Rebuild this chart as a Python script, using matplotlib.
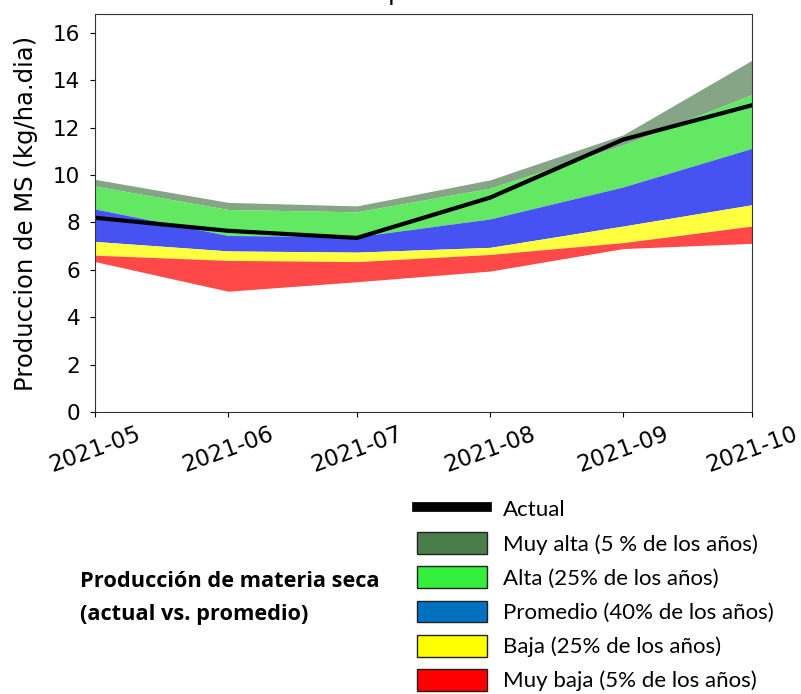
import matplotlib
matplotlib.use("Agg")
import matplotlib.pyplot as plt
import matplotlib.dates as mdates
from matplotlib.patches import Patch
from matplotlib.lines import Line2D
import pandas as pd

months = ["2021-05-01", "2021-06-01", "2021-07-01", "2021-08-01", "2021-09-01", "2021-10-01"]
muy_alta_top = [9.82, 8.85, 8.7, 9.8, 11.7, 14.85]
alta_top = [9.54, 8.55, 8.45, 9.45, 11.27, 13.4]
promedio_top = [8.57, 7.45, 7.4, 8.15, 9.5, 11.13]
baja_top = [7.2, 6.8, 6.75, 6.95, 7.85, 8.75]
muy_baja_top = [6.62, 6.4, 6.35, 6.65, 7.15, 7.85]
muy_baja_bottom = [6.35, 5.1, 5.5, 5.95, 6.9, 7.12]
actual = [8.2, 7.65, 7.35, 9.05, 11.5, 12.95]

legend_labels = ["Actual", "Muy alta (5 % de los años)", "Alta (25% de los años)",
                 "Promedio (40% de los años)", "Baja (25% de los años)",
                 "Muy baja (5% de los años)"]
title = "Campo natural"
ylabel = "Produccion de MS (kg/ha.dia)"
side_text = "Producción de materia seca\n(actual vs. promedio)"

x = pd.to_datetime(months)

fig = plt.figure(figsize=(8.01, 6.94), dpi=100)
ax = fig.add_axes([0.1186, 0.4063, 0.8202, 0.5735])

c_gray = "#86a486"
c_green = "#62e862"
c_blue = "#4652f2"
c_yellow = "#ffff40"
c_red = "#ff4848"

ax.fill_between(x, alta_top, muy_alta_top, color=c_gray, lw=0)
ax.fill_between(x, promedio_top, alta_top, color=c_green, lw=0)
ax.fill_between(x, baja_top, promedio_top, color=c_blue, lw=0)
ax.fill_between(x, muy_baja_top, baja_top, color=c_yellow, lw=0)
ax.fill_between(x, muy_baja_bottom, muy_baja_top, color=c_red, lw=0)
ax.plot(x, actual, color="black", lw=3)

ax.set_xlim(x[0], x[-1])
ax.set_ylim(0, 16.8)
ax.set_yticks(range(0, 17, 2))
ax.set_xticks(x)
ax.xaxis.set_major_formatter(mdates.DateFormatter("%Y-%m"))
ax.tick_params(axis="y", labelsize=15.5, pad=7)
ax.tick_params(axis="x", labelsize=16.5, pad=4)
for sp in ax.spines.values():
    sp.set_color("#333333")
for lab in ax.get_xticklabels():
    lab.set_rotation(20)
    lab.set_ha("center")
ax.set_ylabel(ylabel, fontsize=17.5, labelpad=11)
ax.set_title(title, fontsize=18, pad=10)

handles = [Line2D([], [], color="black", lw=7),
           Patch(facecolor="#4a7d4a", edgecolor="#222222", lw=1),
           Patch(facecolor="#33ee3a", edgecolor="#222222", lw=1),
           Patch(facecolor="#0070c0", edgecolor="#222222", lw=1),
           Patch(facecolor="#ffff00", edgecolor="#222222", lw=1),
           Patch(facecolor="#ff0000", edgecolor="#222222", lw=1)]
fs = 16
fig.legend(handles, legend_labels, loc="upper left",
           bbox_to_anchor=(417 / 801, 1 - 498 / 694), frameon=False,
           prop={"family": "Lato", "size": fs}, handlelength=3.15,
           handleheight=1.13, labelspacing=0.53, handletextpad=0.72,
           borderpad=0, borderaxespad=0)

fig.text(80 / 801, 1 - 598 / 694, side_text, fontsize=15.7, fontweight="bold",
         family="Open Sans", va="center", ha="left", linespacing=1.75)

fig.savefig("out.png", dpi=100)
